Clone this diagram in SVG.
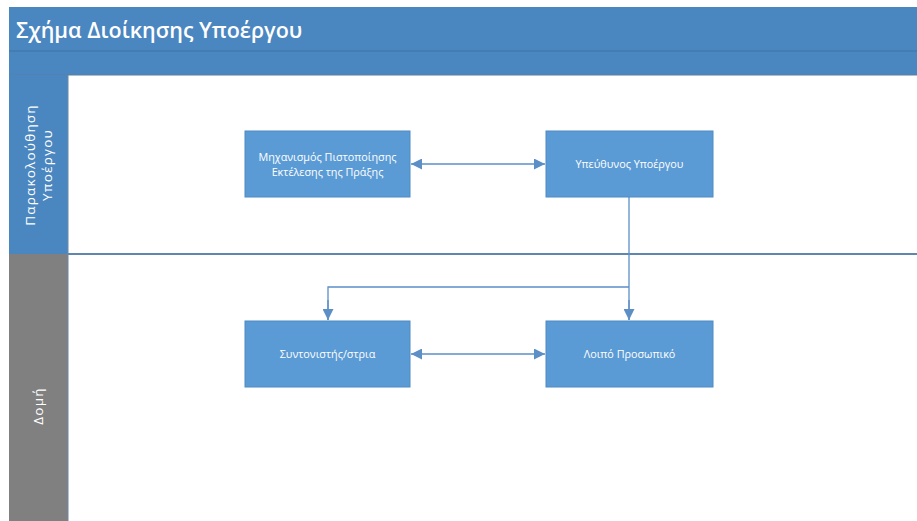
<svg xmlns="http://www.w3.org/2000/svg" width="917" height="521" viewBox="0 0 917 521">
<defs>
<style>
.box{fill:#5b9bd5;stroke:#4f8ac2;stroke-width:1}
.lbl{font-family:"Open Sans","Liberation Sans",sans-serif;font-size:10.8px;fill:#ffffff;text-anchor:middle}
.lane{font-family:"Open Sans","Liberation Sans",sans-serif;font-size:13.5px;letter-spacing:1.2px;fill:#ffffff;text-anchor:middle}
.con{fill:none;stroke:#5b8fc6;stroke-width:1.3}
</style>
<marker id="ah" viewBox="0 0 10 10" refX="10" refY="5" markerWidth="11" markerHeight="11" markerUnits="userSpaceOnUse" orient="auto-start-reverse">
<path d="M0,0 L10,5 L0,10 z" fill="#5b8fc6"/>
</marker>
</defs>
<rect width="917" height="521" fill="#ffffff"/>
<g id="header">
<rect x="9" y="7" width="908" height="68" fill="#4a86bf"/>
<line x1="9" y1="51" x2="917" y2="51" stroke="#3f74a8" stroke-width="1.2"/>
<line x1="9" y1="75" x2="917" y2="75" stroke="#5f7f9e" stroke-width="1.2"/>
<text x="16" y="38" font-family="Open Sans, Liberation Sans, sans-serif" font-size="21.5" font-weight="600" fill="#ffffff">Σχήμα Διοίκησης Υποέργου</text>
</g>
<g id="lane1">
<rect x="9" y="75" width="59" height="179" fill="#4a86c0"/>
<text class="lane" transform="translate(38,165) rotate(-90)"><tspan x="0" y="-3">Παρακολούθηση</tspan><tspan x="0" y="14">Υποέργου</tspan></text>
</g>
<g id="lane2">
<rect x="9" y="254" width="59" height="267" fill="#808080"/>
<text class="lane" transform="translate(43,406) rotate(-90)">Δομή</text>
</g>
<line x1="68" y1="254" x2="917" y2="254" stroke="#5f87ad" stroke-width="2"/>
<line x1="68" y1="75" x2="68" y2="521" stroke="#6f8aa5" stroke-width="1"/>
<g id="connectors">
<line class="con" x1="411" y1="164" x2="545" y2="164" marker-start="url(#ah)" marker-end="url(#ah)"/>
<line class="con" x1="411" y1="354" x2="545" y2="354" marker-start="url(#ah)" marker-end="url(#ah)"/>
<line class="con" x1="629" y1="197" x2="629" y2="320"/>
<path class="con" d="M629,287 H328 V320"/>
<line class="con" x1="629" y1="300" x2="629" y2="320" marker-end="url(#ah)"/>
<line class="con" x1="328" y1="300" x2="328" y2="320" marker-end="url(#ah)"/>
</g>
<g id="n1">
<rect class="box" x="245" y="131" width="165" height="66"/>
<text class="lbl" x="327.5" y="161">Μηχανισμός Πιστοποίησης</text>
<text class="lbl" x="327.5" y="176">Εκτέλεσης της Πράξης</text>
</g>
<g id="n2">
<rect class="box" x="546" y="131" width="167" height="66"/>
<text class="lbl" x="629.5" y="168">Υπεύθυνος Υποέργου</text>
</g>
<g id="n3">
<rect class="box" x="245" y="321" width="165" height="66"/>
<text class="lbl" x="327.5" y="358">Συντονιστής/στρια</text>
</g>
<g id="n4">
<rect class="box" x="546" y="321" width="167" height="66"/>
<text class="lbl" x="629.5" y="358">Λοιπό Προσωπικό</text>
</g>
</svg>
